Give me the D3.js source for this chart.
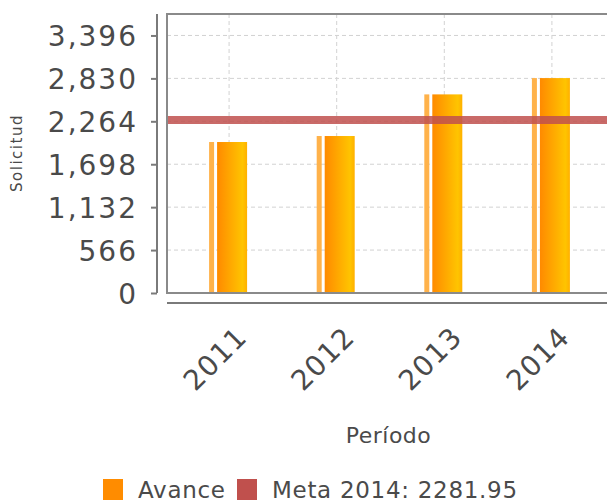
<!DOCTYPE html>
<html>
<head>
<meta charset="utf-8">
<script src="https://cdn.jsdelivr.net/npm/d3@7"></script>
<style>
  body { margin: 0; background: #fff; }
  text { font-family: "DejaVu Sans", sans-serif; fill: #4a4a4a; }
</style>
</head>
<body>
<div id="chart"></div>
<script>
// data
var periods = ["2011", "2012", "2013", "2014"];
var avance = [1991, 2070, 2619, 2834];
var meta = 2281.95;
var yTicks = [0, 566, 1132, 1698, 2264, 2830, 3396];
var yMax = 3679;

var W = 607, H = 502;
var plot = { left: 167, top: 14, right: 614, bottom: 293 };

var svg = d3.select("#chart").append("svg")
    .attr("width", W)
    .attr("height", H);

var defs = svg.append("defs");
var grad = defs.append("linearGradient")
    .attr("id", "barGrad")
    .attr("x1", "0%").attr("x2", "100%")
    .attr("y1", "0%").attr("y2", "0%");
grad.append("stop").attr("offset", "0%").attr("stop-color", "#ff8a00");
grad.append("stop").attr("offset", "85%").attr("stop-color", "#ffc400");
grad.append("stop").attr("offset", "100%").attr("stop-color", "#ffb000");

var xScale = d3.scalePoint()
    .domain(periods)
    .range([plot.left, plot.right])
    .padding(0.577);

var yScale = d3.scaleLinear()
    .domain([0, yMax])
    .range([plot.bottom, plot.top]);

// plot background + grid
svg.append("rect")
    .attr("x", plot.left).attr("y", plot.top)
    .attr("width", plot.right - plot.left)
    .attr("height", plot.bottom - plot.top)
    .attr("fill", "#fff");

svg.append("g").selectAll("line")
    .data(yTicks.filter(function(d){ return d > 0; }))
    .enter().append("line")
    .attr("x1", plot.left).attr("x2", plot.right)
    .attr("y1", function(d){ return yScale(d); })
    .attr("y2", function(d){ return yScale(d); })
    .attr("stroke", "#d2d2d2")
    .attr("stroke-width", 1)
    .attr("stroke-dasharray", "4,3");

svg.append("g").selectAll("line")
    .data(periods)
    .enter().append("line")
    .attr("x1", function(d){ return xScale(d); })
    .attr("x2", function(d){ return xScale(d); })
    .attr("y1", plot.top).attr("y2", plot.bottom)
    .attr("stroke", "#d2d2d2")
    .attr("stroke-width", 1)
    .attr("stroke-dasharray", "4,3");

// bars: thin light sliver + gradient main bar
var bars = svg.append("g").selectAll("g")
    .data(periods)
    .enter().append("g");

bars.append("rect")
    .attr("x", function(d){ return xScale(d) - 20; })
    .attr("y", function(d, i){ return yScale(avance[i]); })
    .attr("width", 5)
    .attr("height", function(d, i){ return plot.bottom - yScale(avance[i]); })
    .attr("fill", "#ffb24a");

bars.append("rect")
    .attr("x", function(d){ return xScale(d) - 12; })
    .attr("y", function(d, i){ return yScale(avance[i]); })
    .attr("width", 30)
    .attr("height", function(d, i){ return plot.bottom - yScale(avance[i]); })
    .attr("fill", "url(#barGrad)");

// meta line
svg.append("line")
    .attr("x1", plot.left).attr("x2", plot.right)
    .attr("y1", yScale(meta)).attr("y2", yScale(meta))
    .attr("stroke", "#c0504d")
    .attr("stroke-opacity", 0.85)
    .attr("stroke-width", 8);

// plot frame
svg.append("rect")
    .attr("x", plot.left).attr("y", plot.top)
    .attr("width", plot.right - plot.left)
    .attr("height", plot.bottom - plot.top)
    .attr("fill", "none")
    .attr("stroke", "#8a8a8a")
    .attr("stroke-width", 2);

// y axis
var yAxis = d3.axisLeft(yScale)
    .tickValues(yTicks)
    .tickSize(6)
    .tickPadding(13)
    .tickFormat(d3.format(","));

var gy = svg.append("g")
    .attr("transform", "translate(157,0)")
    .call(yAxis);
gy.select(".domain")
    .attr("d", "M0," + plot.top + "V" + plot.bottom)
    .attr("stroke", "#7a7a7a")
    .attr("stroke-width", 2);
gy.selectAll(".tick line").attr("stroke", "#7a7a7a").attr("stroke-width", 2);
gy.selectAll(".tick text")
    .attr("fill", "#4a4a4a")
    .style("font-family", "DejaVu Sans, sans-serif")
    .style("font-size", "28px")
    .style("letter-spacing", "2px")
    .attr("dy", "0.36em");

// x axis
var xAxis = d3.axisBottom(xScale).tickSize(0).tickPadding(0);
var gx = svg.append("g")
    .attr("transform", "translate(0,303)")
    .call(xAxis);
gx.select(".domain")
    .attr("d", "M" + plot.left + ",0H" + plot.right)
    .attr("stroke", "#7a7a7a")
    .attr("stroke-width", 2);
gx.selectAll(".tick text")
    .attr("fill", "#4a4a4a")
    .style("font-family", "DejaVu Sans, sans-serif")
    .style("font-size", "28px")
    .style("letter-spacing", "1px")
    .attr("text-anchor", "end")
    .attr("dy", null)
    .attr("y", 0)
    .attr("transform", "translate(19,36) rotate(-45)");

// axis titles
svg.append("text")
    .attr("transform", "translate(22,153) rotate(-90)")
    .attr("text-anchor", "middle")
    .style("font-size", "15px")
    .style("letter-spacing", "1.5px")
    .attr("fill", "#666")
    .text("Solicitud");

svg.append("text")
    .attr("x", (plot.left + plot.right) / 2 - 2)
    .attr("y", 443)
    .attr("text-anchor", "middle")
    .style("font-size", "22px")
    .style("letter-spacing", "0.5px")
    .text("Período");

// legend
var legendItems = [
    { label: "Avance", color: "#ff8c00", x: 103 },
    { label: "Meta 2014: " + meta, color: "#c0504d", x: 237 }
];
var lg = svg.append("g").selectAll("g")
    .data(legendItems)
    .enter().append("g")
    .attr("transform", function(d){ return "translate(" + d.x + ",479)"; });
lg.append("rect")
    .attr("width", 20).attr("height", 21)
    .attr("fill", function(d){ return d.color; });
lg.append("text")
    .attr("x", 35).attr("y", 19)
    .style("font-size", "23px")
    .style("letter-spacing", "0.7px")
    .text(function(d){ return d.label; });
</script>
</body>
</html>
